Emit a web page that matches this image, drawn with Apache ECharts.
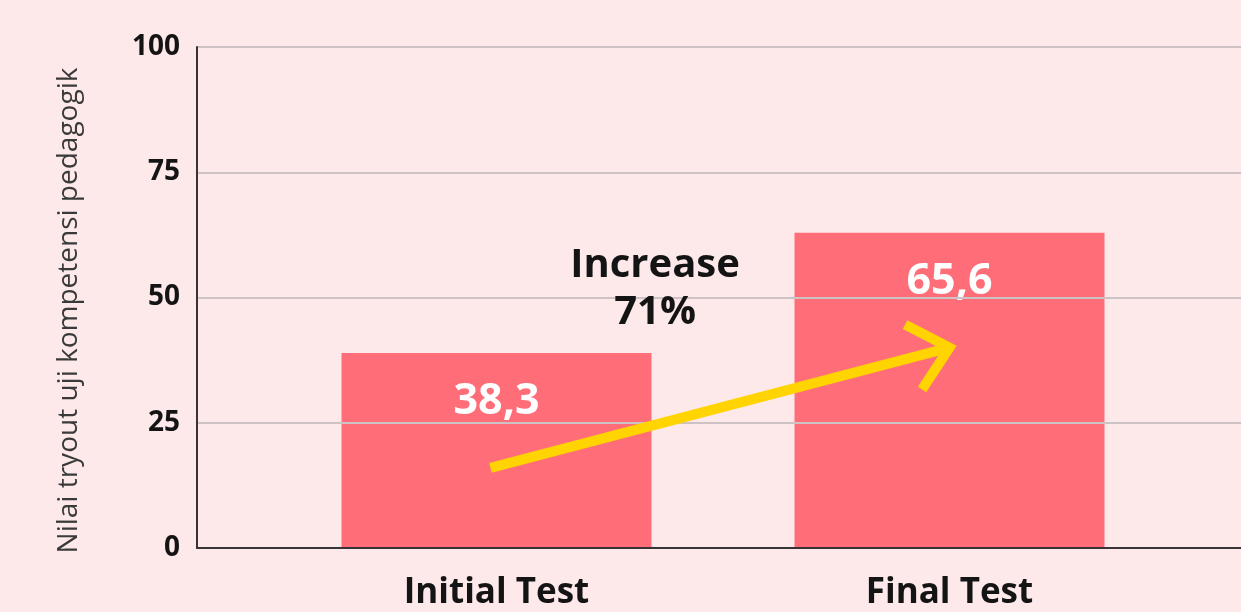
<!DOCTYPE html>
<html>
<head>
<meta charset="utf-8">
<script src="https://cdn.jsdelivr.net/npm/echarts@6/dist/echarts.min.js"></script>
<style>
html,body{margin:0;padding:0;background:#fde8ea;}
#chart{width:1241px;height:612px;}
</style>
</head>
<body>
<div id="chart"></div>
<script>
// ---- data ----
var categories = ['Initial Test', 'Final Test'];
var barValues = [38.9, 62.9];          // bar heights as drawn in the picture
var barLabels = ['38,3', '65,6'];      // printed value labels
var yTicks = [0, 25, 50, 75, 100];
var yAxisName = 'Nilai tryout uji kompetensi pedagogik';
var annotationLines = ['Increase', '71%'];
var arrowFrom = ['Initial Test', 16];
var arrowTo = ['Final Test', 40];

var FONT = 'Open Sans';
var chart = echarts.init(document.getElementById('chart'), null, {renderer: 'canvas'});

var option = {
  backgroundColor: '#fde8ea',
  animation: false,
  textStyle: {fontFamily: FONT},
  grid: [
    {left: 197, right: 0, top: 47, bottom: 64},
    {left: 270, width: 906, top: 47, bottom: 64}
  ],
  xAxis: [
    {
      gridIndex: 0, type: 'category', data: [''], z: 5,
      axisLine: {show: true, lineStyle: {color: '#3a3335', width: 2}},
      axisTick: {show: false}, axisLabel: {show: false}, splitLine: {show: false}
    },
    {
      gridIndex: 1, type: 'category', data: categories,
      axisLine: {show: false}, axisTick: {show: false},
      axisLabel: {margin: 28, fontSize: 35, fontWeight: 'bold', color: '#141414', fontFamily: FONT}
    }
  ],
  yAxis: [
    {
      gridIndex: 0, type: 'value', min: yTicks[0], max: yTicks[yTicks.length - 1], interval: 25, z: 5,
      axisLine: {show: true, lineStyle: {color: '#3a3335', width: 2}},
      axisTick: {show: false},
      axisLabel: {margin: 17, fontSize: 28, fontWeight: 'bold', color: '#141414', fontFamily: FONT},
      splitLine: {show: true, lineStyle: {color: '#cdc3c5', width: 2}},
      name: yAxisName, nameLocation: 'middle', nameGap: 114, nameRotate: 90,
      nameTextStyle: {fontSize: 28, color: '#3a3a3a', fontFamily: FONT, padding: [0, 26, 0, 0]}
    },
    {
      gridIndex: 1, type: 'value', min: yTicks[0], max: yTicks[yTicks.length - 1], show: false
    }
  ],
  series: [{
    type: 'bar', xAxisIndex: 1, yAxisIndex: 1,
    data: barValues, barWidth: 310,
    itemStyle: {color: '#ff6e78'},
    label: {
      show: true, position: 'insideTop', distance: 27,
      formatter: function (p) { return barLabels[p.dataIndex]; },
      fontSize: 43, fontWeight: 'bold', color: '#ffffff', fontFamily: FONT
    }
  }]
};
chart.setOption(option);

function drawAnnotations() {
  var p0 = chart.convertToPixel({seriesIndex: 0}, arrowFrom);
  var p1 = chart.convertToPixel({seriesIndex: 0}, arrowTo);
  p0 = [p0[0] - 6, p0[1]];
  var ang = Math.atan2(p0[1] - p1[1], p0[0] - p1[0]);
  var spread = 42 * Math.PI / 180, len = 50;
  var a1 = [p1[0] + len * Math.cos(ang + spread), p1[1] + len * Math.sin(ang + spread)];
  var a2 = [p1[0] + len * Math.cos(ang - spread), p1[1] + len * Math.sin(ang - spread)];
  var c1 = chart.convertToPixel({seriesIndex: 0}, ['Initial Test', 60]);
  var c2 = chart.convertToPixel({seriesIndex: 0}, ['Final Test', 60]);
  var cx = c1[0] + (c2[0] - c1[0]) * 0.35;
  chart.setOption({
    graphic: [
      {
        type: 'polyline', z: 10,
        shape: {points: [p0, p1]},
        style: {stroke: '#ffd400', lineWidth: 10, lineCap: 'butt', fill: null}
      },
      {
        type: 'polyline', z: 10,
        shape: {points: [a1, p1, a2]},
        style: {stroke: '#ffd400', lineWidth: 10, lineCap: 'butt', lineJoin: 'miter', fill: null}
      },
      {
        type: 'text', z: 10, x: cx, y: c1[1] - 5,
        style: {
          text: annotationLines.join('\n'), fill: '#141414', align: 'center', verticalAlign: 'top',
          font: 'bold 40px "' + FONT + '"', lineHeight: 47
        }
      }
    ]
  });
}
drawAnnotations();
</script>
</body>
</html>
